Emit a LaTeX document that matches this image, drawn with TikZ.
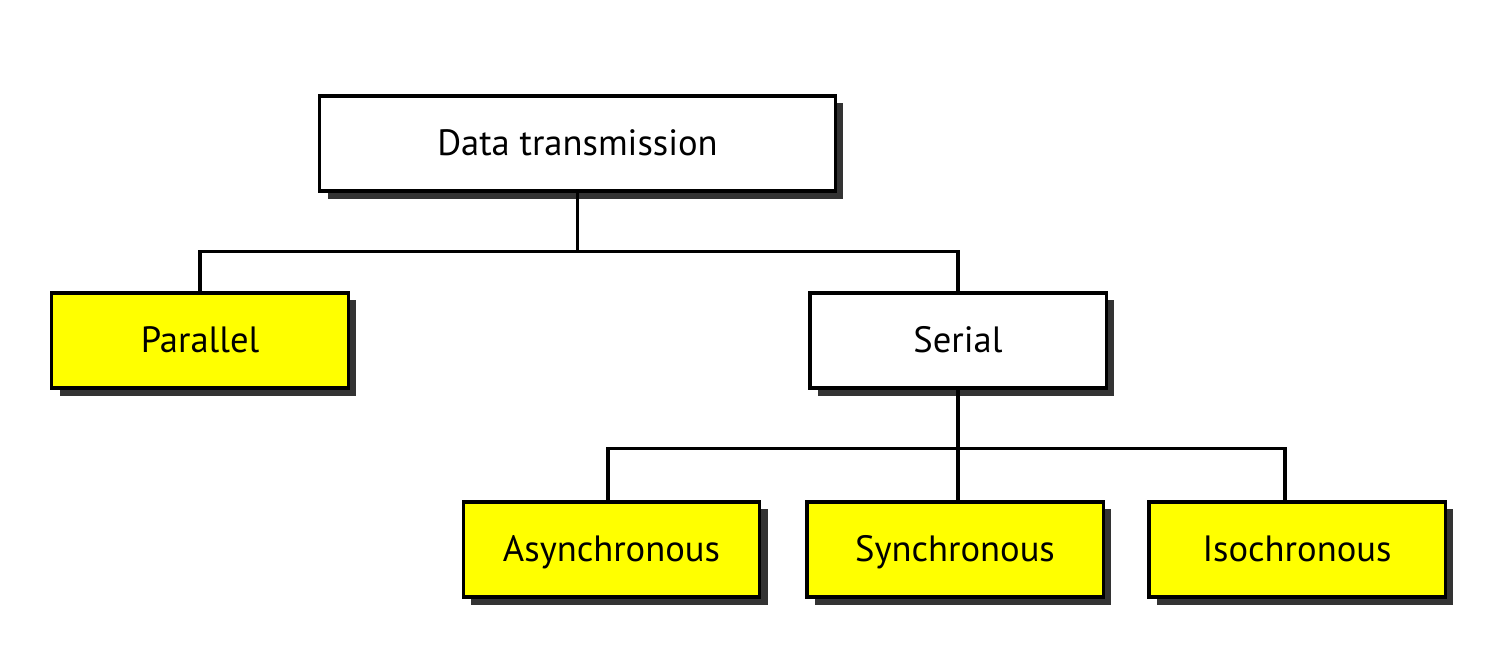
\documentclass[tikz,border=0pt]{standalone}
\usepackage{fontspec}
\setmainfont{PT Sans}
\usetikzlibrary{shadows}
\definecolor{leafyellow}{RGB}{255,255,0}
\tikzset{
    tree-box/.style = {draw=black, line width=0.9pt, rectangle, minimum width=2.96cm, minimum height=0.95cm, inner sep=0pt,
        text height=1.4ex, text depth=0ex, font=\fontsize{10.4}{12}\selectfont,
        drop shadow={shadow xshift=0.08cm, shadow yshift=-0.075cm, fill=black!80, opacity=1}},
    tree-box-plain/.style = {tree-box, fill=white},
    tree-box-leaf/.style = {tree-box, fill=leafyellow},
    tree-line/.style = {line width=1pt},
}

\begin{document}
\begin{tikzpicture}[x=0.01cm, y=-0.01cm]
\useasboundingbox (0,0) rectangle (1489,662);
\node [tree-box-plain, minimum width=5.15cm] (data) at (577.5,143.5) {Data transmission};
\node [tree-box-leaf] (par) at (200,340.5) {Parallel};
\node [tree-box-plain] (ser) at (958,340.5) {Serial};
\node [tree-box-leaf] (asy) at (611.5,549.5) {Asynchronous};
\node [tree-box-leaf] (syn) at (955,549.5) {Synchronous};
\node [tree-box-leaf] (iso) at (1297,549.5) {Isochronous};

\draw [tree-line] (data.south) -- ++(0,59) coordinate (dj);
\draw [tree-line] (dj) -| (par.north);
\draw [tree-line] (dj) -| (ser.north);
\draw [tree-line] (ser.south) -- ++(0,59) coordinate (sj);
\draw [tree-line] (sj) -| ([xshift=-0.035cm]asy.north);
\draw [tree-line] (sj) -- (sj |- syn.north);
\draw [tree-line] (sj) -| ([xshift=-0.12cm]iso.north);
\end{tikzpicture}
\end{document}
